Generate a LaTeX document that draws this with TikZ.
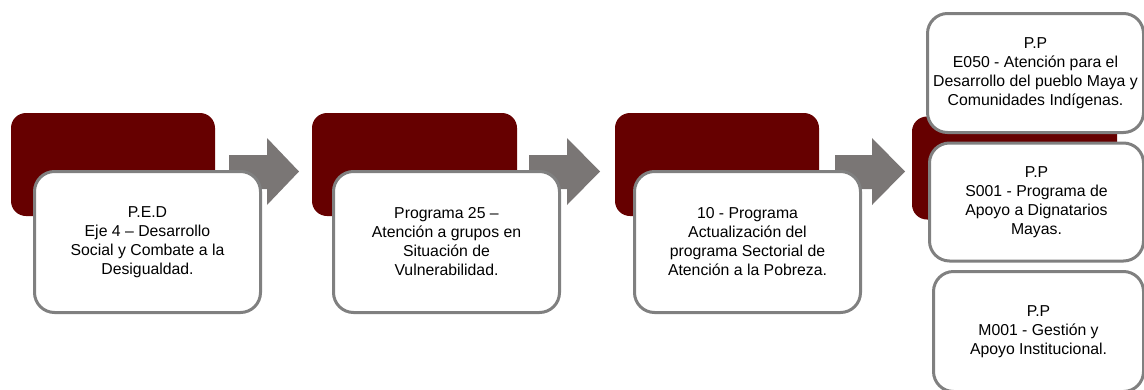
\documentclass[tikz,border=0pt]{standalone}
\usepackage{fontspec}
\setmainfont{Liberation Sans}
\definecolor{darkred}{HTML}{660000}
\definecolor{arrowgray}{HTML}{7A7675}
\definecolor{bordergray}{HTML}{808080}
\begin{document}
\begin{tikzpicture}[x=1pt,y=-1pt,
  darkbox/.style={fill=darkred, draw=none, rounded corners=15pt, inner sep=0pt},
  whitebox/.style={fill=white, draw=bordergray, line width=3pt, rounded corners=20pt,
    inner sep=0pt, align=center, font=\fontsize{15.8}{19}\selectfont},
  blockarrow/.style={fill=arrowgray, draw=none}]
\useasboundingbox (0,0) rectangle (1144,389);
\clip (0,0) rectangle (1144,389);
% dark back boxes
\node[darkbox, minimum width=204pt, minimum height=103pt] (d1) at (113,164.5) {};
\node[darkbox, minimum width=205pt, minimum height=103pt] (d2) at (414.5,164.5) {};
\node[darkbox, minimum width=204pt, minimum height=103pt] (d3) at (717,164.5) {};
\node[darkbox, minimum width=205pt, minimum height=103pt] (d4) at (1014.5,168) {};
% block arrows
\fill[blockarrow] (229,155) -- (267,155) -- (267,138) -- (299,171.5) -- (267,205) -- (267,189) -- (229,189) -- cycle;
\fill[blockarrow] (529,155) -- (567,155) -- (567,138) -- (600,171.5) -- (567,205) -- (567,189) -- (529,189) -- cycle;
\fill[blockarrow] (835,155) -- (872,155) -- (872,138) -- (905,171.5) -- (872,205) -- (872,189) -- (835,189) -- cycle;
% white boxes
\node[whitebox, minimum width=226pt, minimum height=141pt] (w1) at (147.5,242)
  {P.E.D\\Eje 4 – Desarrollo\\Social y Combate a la\\Desigualdad.};
\node[whitebox, minimum width=226pt, minimum height=141pt] (w2) at (446.5,242)
  {Programa 25 –\\Atención a grupos en\\Situación de\\Vulnerabilidad.};
\node[whitebox, minimum width=226pt, minimum height=141pt] (w3) at (747.5,242)
  {10 - Programa\\Actualización del\\programa Sectorial de\\Atención a la Pobreza.};
\node[whitebox, minimum width=216pt, minimum height=119pt] (p1) at (1035.5,73)
  {P.P\\E050 - Atención para el\\Desarrollo del pueblo Maya y\\Comunidades Indígenas.};
\node[whitebox, minimum width=214pt, minimum height=118pt] (p2) at (1036.5,202)
  {P.P\\S001 - Programa de\\Apoyo a Dignatarios\\Mayas.};
\node[whitebox, minimum width=210pt, minimum height=120pt] (p3) at (1038.5,331.5)
  {P.P\\M001 - Gestión y\\Apoyo Institucional.};
\end{tikzpicture}
\end{document}
